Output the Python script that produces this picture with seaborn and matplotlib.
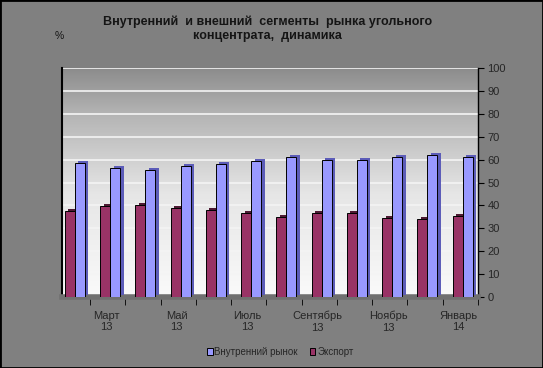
import numpy as np
import pandas as pd
import matplotlib
matplotlib.use('Agg')
import matplotlib.pyplot as plt
import matplotlib.patheffects as pe
import matplotlib.transforms as mtransforms
import seaborn as sns

# data (%)
months = ['Февраль\n13', 'Март\n13', 'Апрель\n13', 'Май\n13', 'Июнь\n13', 'Июль\n13',
          'Август\n13', 'Сентябрь\n13', 'Октябрь\n13', 'Ноябрь\n13', 'Декабрь\n13', 'Январь\n14']
domestic = [58.5, 56.3, 55.5, 57.2, 58.0, 59.4, 61.0, 59.8, 59.8, 61.0, 62.0, 61.0]
export = [37.6, 39.7, 40.2, 38.9, 38.0, 36.7, 35.0, 36.7, 36.7, 34.5, 34.0, 35.4]

df = pd.DataFrame({
    'month': months * 2,
    'value': export + domestic,
    'series': ['Экспорт'] * 12 + ['Внутренний рынок'] * 12,
})

sns.set_style('white')
plt.rcParams['font.family'] = ['Liberation Sans', 'DejaVu Sans']

fig = plt.figure(figsize=(5.43, 3.68), dpi=100, facecolor='#808080')
ax = fig.add_axes([0.114, 0.193, 0.766, 0.622])

# back wall gradient, white at the floor to grey at the top
grad = np.linspace(0, 1, 256).reshape(-1, 1)
wall = matplotlib.colors.LinearSegmentedColormap.from_list(
    'wall', [(0, '#fafafa'), (0.45, '#e6e6e6'), (0.8, '#b4b4b4'), (1, '#8c8c8c')])
ax.imshow(grad, cmap=wall, aspect='auto', extent=[0, 1, 0, 1],
          transform=ax.transAxes, zorder=0, origin='lower')

sns.barplot(data=df, x='month', y='value', hue='series',
            hue_order=['Экспорт', 'Внутренний рынок'],
            palette=['#993366', '#9999FF'], width=0.57, gap=0.0,
            edgecolor='black', linewidth=0.7, saturation=1, ax=ax, zorder=3)

# fake 3d side faces
for bar, c in zip(ax.patches, ['#4d1a33'] * 12 + ['#5c5cb8'] * 12):
    bar.set_path_effects([pe.SimplePatchShadow(offset=(2.5, 1.5), shadow_rgbFace=c, alpha=1),
                          pe.Normal()])

ax.set_ylim(0, 100)
ax.set_xlim(-0.37, 11.42)
ax.set_yticks(range(0, 101, 10))
ax.yaxis.tick_right()
ax.tick_params(axis='y', labelsize=8, length=4, color='black', pad=3, right=True)
ax.grid(axis='y', color='#f4f4f4', linewidth=1.2, zorder=1)
ax.set_axisbelow(True)

ax.set_xticks(range(12))
ax.set_xticklabels([m if i % 2 == 1 else '' for i, m in enumerate(months)], fontsize=8)
ax.tick_params(axis='x', length=0, pad=10)
shift = mtransforms.ScaledTranslation(-0.04, 0, fig.dpi_scale_trans)
for lab in ax.get_xticklabels():
    lab.set_transform(lab.get_transform() + shift)
ax.set_xticks(np.arange(0.43, 11.5, 1), minor=True)
ax.tick_params(axis='x', which='minor', length=6, color='black', bottom=True)
ax.set_xlabel('')
ax.set_ylabel('')

ax.spines['top'].set_visible(False)
ax.spines['left'].set_color('black')
ax.spines['left'].set_linewidth(1.5)
ax.spines['right'].set_color('black')
ax.spines['right'].set_linewidth(1)
ax.spines['bottom'].set_color('#707070')
ax.spines['bottom'].set_linewidth(4)

handles, labels = ax.get_legend_handles_labels()
ax.legend(handles[::-1], labels[::-1], loc='center', bbox_to_anchor=(0.525, -0.24),
          ncol=2, frameon=False, fontsize=7, handlelength=0.6, handleheight=0.6,
          handletextpad=0.2, columnspacing=1.2)

fig.text(0.492, 0.922, 'Внутренний  и внешний  сегменты  рынка угольного\nконцентрата,  динамика',
         ha='center', va='center', fontsize=9, fontweight='bold', color='#151515', linespacing=1.3)
fig.text(0.1, 0.895, '%', fontsize=7.5, color='#151515')

fig.patches.append(matplotlib.patches.Rectangle((0, 0), 1, 1, transform=fig.transFigure,
                                                fill=False, edgecolor='black', linewidth=2))

fig.savefig('out.png', dpi=100, facecolor=fig.get_facecolor())
